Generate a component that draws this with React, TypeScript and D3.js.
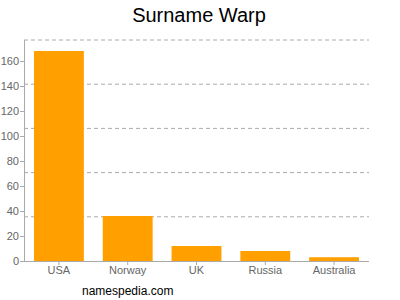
import React from "react";
import * as d3 from "d3";

const categories = ["USA", "Norway", "UK", "Russia", "Australia"];
const values = [168, 36, 12, 8, 3];
const yTicks = [0, 20, 40, 60, 80, 100, 120, 140, 160];
const title = "Surname Warp";
const footer = "namespedia.com";

export default function App() {
  const W = 400, H = 300;
  const left = 24, right = 369, top = 40, bottom = 261;
  const x = d3.scaleBand<string>().domain(categories).range([left, right]).paddingInner(0.275).paddingOuter(0.145);
  const y = d3.scaleLinear().domain([0, 176.8]).range([bottom, top]);
  const grid = d3.range(1, 6).map((i) => bottom - (i * (bottom - top)) / 5);
  const font = "Liberation Sans, Arial, sans-serif";
  return (
    <svg width={W} height={H} style={{ position: "absolute", left: 0, top: 0 }}>
      <rect width={W} height={H} fill="#fff" />
      <text x={199} y={22} textAnchor="middle" fontFamily={font} fontSize={20} fill="#000">{title}</text>
      {grid.map((g, i) => (
        <line key={i} x1={left} x2={right} y1={g} y2={g} stroke="#aaa" strokeDasharray="4,3" strokeWidth={1} />
      ))}
      {categories.map((c, i) => (
        <rect key={c} x={x(c)!} width={x.bandwidth()} y={y(values[i])} height={bottom - y(values[i])} fill="#ffa000" />
      ))}
      <line x1={left + 0.5} x2={left + 0.5} y1={top} y2={bottom} stroke="#aaa" />
      <line x1={left} x2={right} y1={bottom + 0.5} y2={bottom + 0.5} stroke="#aaa" />
      {yTicks.map((t) => (
        <g key={t}>
          <line x1={left - 4} x2={left} y1={Math.round(y(t)) + 0.5} y2={Math.round(y(t)) + 0.5} stroke="#aaa" />
          <text x={left - 5} y={y(t) + 4} textAnchor="end" fontFamily={font} fontSize={11} fill="#666">{t}</text>
        </g>
      ))}
      {categories.map((c) => (
        <g key={c}>
          <line x1={x(c)! + x.bandwidth() / 2} x2={x(c)! + x.bandwidth() / 2} y1={bottom} y2={bottom + 4} stroke="#aaa" />
          <text x={x(c)! + x.bandwidth() / 2} y={bottom + 13} textAnchor="middle" fontFamily={font} fontSize={11} fill="#666">{c}</text>
        </g>
      ))}
      <text x={82} y={295} fontFamily={font} fontSize={12} fill="#000">{footer}</text>
    </svg>
  );
}
